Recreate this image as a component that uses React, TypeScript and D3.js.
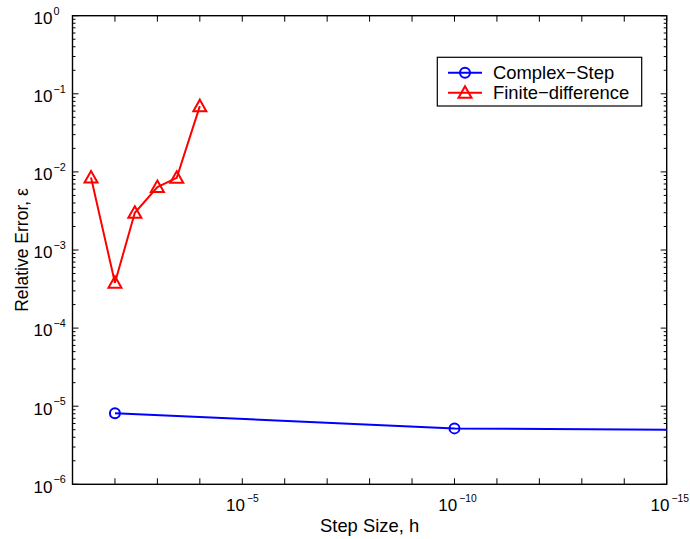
import React, { useEffect, useRef } from "react";
import * as d3 from "d3";

// series
const fdStep = [3.66e-2, 1e-2, 3.4e-3, 1e-3, 3.5e-4, 1e-4];
const fdError = [8.5e-3, 3.8e-4, 3.0e-3, 6.4e-3, 8.4e-3, 6.95e-2];
const csStep = [1e-2, 1e-10, 1e-20];
const csError = [8.1e-6, 5.2e-6, 4.8e-6];

// axis ticks (exponents of ten)
const xTickExps = [-1, -2, -3, -4, -5, -6, -7, -8, -9, -10, -11, -12, -13, -14, -15];
const xLabelExps = [-5, -10, -15];
const yTickExps = [0, -1, -2, -3, -4, -5, -6];

const seriesNames = ["Complex\u2212Step", "Finite\u2212difference"];

const FONT = "'Liberation Sans', Arial, Helvetica, sans-serif";

const expText = (e: number) => (e === 0 ? "0" : "\u2212" + -e);

const App = () => {
  const ref = useRef<SVGSVGElement>(null);

  useEffect(() => {
    const svg = d3.select(ref.current);
    svg.selectAll("*").remove();

    const left = 72.5, right = 666.7, top = 15.7, bottom = 484.3;

    const x = d3.scaleLog().domain([1e-1, 1e-15]).range([left, right]);
    const y = d3.scaleLog().domain([1e-6, 1]).range([bottom, top]);

    svg.append("rect").attr("width", 690).attr("height", 539).attr("fill", "#fff");

    svg.append("defs").append("clipPath").attr("id", "plotclip")
      .append("rect").attr("x", left).attr("y", top)
      .attr("width", right - left).attr("height", bottom - top);

    const g = svg.append("g");

    // y ticks, major + minor, on both sides
    yTickExps.forEach((e) => {
      const yy = y(Math.pow(10, e));
      g.append("line").attr("x1", left).attr("x2", left + 6).attr("y1", yy).attr("y2", yy);
      g.append("line").attr("x1", right).attr("x2", right - 6).attr("y1", yy).attr("y2", yy);
      if (e < 0) {
        for (let k = 2; k <= 9; k++) {
          const ym = y(k * Math.pow(10, e));
          g.append("line").attr("x1", left).attr("x2", left + 3).attr("y1", ym).attr("y2", ym);
          g.append("line").attr("x1", right).attr("x2", right - 3).attr("y1", ym).attr("y2", ym);
        }
      }
      svg.append("text").attr("x", 52.5).attr("y", yy + 8.3)
        .attr("text-anchor", "end").attr("font-family", FONT).attr("font-size", 17)
        .text("10");
      svg.append("text").attr("x", 53.5).attr("y", yy - 1.2)
        .attr("font-family", FONT).attr("font-size", 10.8)
        .text(expText(e));
    });

    // x ticks on both sides
    xTickExps.forEach((e) => {
      const xx = x(Math.pow(10, e));
      g.append("line").attr("x1", xx).attr("x2", xx).attr("y1", bottom).attr("y2", bottom - 6);
      g.append("line").attr("x1", xx).attr("x2", xx).attr("y1", top).attr("y2", top + 6);
    });
    g.selectAll("line").attr("stroke", "#000").attr("stroke-width", 1);

    xLabelExps.forEach((e) => {
      const xx = x(Math.pow(10, e));
      svg.append("text").attr("x", xx + 2.7).attr("y", 511.3)
        .attr("text-anchor", "end").attr("font-family", FONT).attr("font-size", 17)
        .text("10");
      svg.append("text").attr("x", xx + 4.8).attr("y", 502.3)
        .attr("font-family", FONT).attr("font-size", 10.3)
        .text(expText(e));
    });

    // frame
    svg.append("rect").attr("x", left).attr("y", top)
      .attr("width", right - left).attr("height", bottom - top)
      .attr("fill", "none").attr("stroke", "#000").attr("stroke-width", 1.4);

    const line = d3.line<[number, number]>().x((d) => x(d[0])).y((d) => y(d[1]));
    const plot = svg.append("g").attr("clip-path", "url(#plotclip)");

    const cs = csStep.map((s, i) => [s, csError[i]] as [number, number]);
    const fd = fdStep.map((s, i) => [s, fdError[i]] as [number, number]);

    plot.append("path").attr("d", line(cs)).attr("fill", "none")
      .attr("stroke", "#0000ff").attr("stroke-width", 2);
    plot.selectAll(".cs").data(cs).enter().append("circle")
      .attr("cx", (d) => x(d[0])).attr("cy", (d) => y(d[1])).attr("r", 5)
      .attr("fill", "none").attr("stroke", "#0000ff").attr("stroke-width", 2);

    const tri = (cx: number, cy: number) =>
      `M${cx},${cy - 6.5}L${cx + 6.5},${cy + 5}L${cx - 6.5},${cy + 5}Z`;

    plot.append("path").attr("d", line(fd)).attr("fill", "none")
      .attr("stroke", "#ff0000").attr("stroke-width", 2);
    plot.selectAll(".fd").data(fd).enter().append("path")
      .attr("d", (d) => tri(x(d[0]), y(d[1])))
      .attr("fill", "none").attr("stroke", "#ff0000").attr("stroke-width", 2);

    // axis labels
    svg.append("text").attr("x", (left + right) / 2).attr("y", 531.7)
      .attr("text-anchor", "middle").attr("font-family", FONT).attr("font-size", 18.4)
      .text("Step Size, h");
    svg.append("text").attr("transform", `translate(28,${(top + bottom) / 2}) rotate(-90)`)
      .attr("text-anchor", "middle").attr("font-family", FONT).attr("font-size", 17.5)
      .text("Relative Error, \u03b5");

    // legend
    const lg = svg.append("g");
    lg.append("rect").attr("x", 437.3).attr("y", 57.3).attr("width", 204.4).attr("height", 48.7)
      .attr("fill", "#fff").attr("stroke", "#000").attr("stroke-width", 1.2);
    const colors = ["#0000ff", "#ff0000"];
    seriesNames.forEach((name, i) => {
      const cy = 72.7 + i * 20;
      lg.append("line").attr("x1", 448).attr("x2", 482).attr("y1", cy).attr("y2", cy)
        .attr("stroke", colors[i]).attr("stroke-width", 2);
      if (i === 0) {
        lg.append("circle").attr("cx", 465).attr("cy", cy).attr("r", 5)
          .attr("fill", "none").attr("stroke", colors[i]).attr("stroke-width", 2);
      } else {
        lg.append("path").attr("d", tri(465, cy)).attr("fill", "none")
          .attr("stroke", colors[i]).attr("stroke-width", 2);
      }
      lg.append("text").attr("x", 493).attr("y", cy + 6.5)
        .attr("font-family", FONT).attr("font-size", 18.4).text(name);
    });
  }, []);

  return (
    <div style={{ position: "absolute", left: 0, top: 0 }}>
      <svg ref={ref} width={690} height={539} style={{ display: "block" }}></svg>
    </div>
  );
};

export default App;
